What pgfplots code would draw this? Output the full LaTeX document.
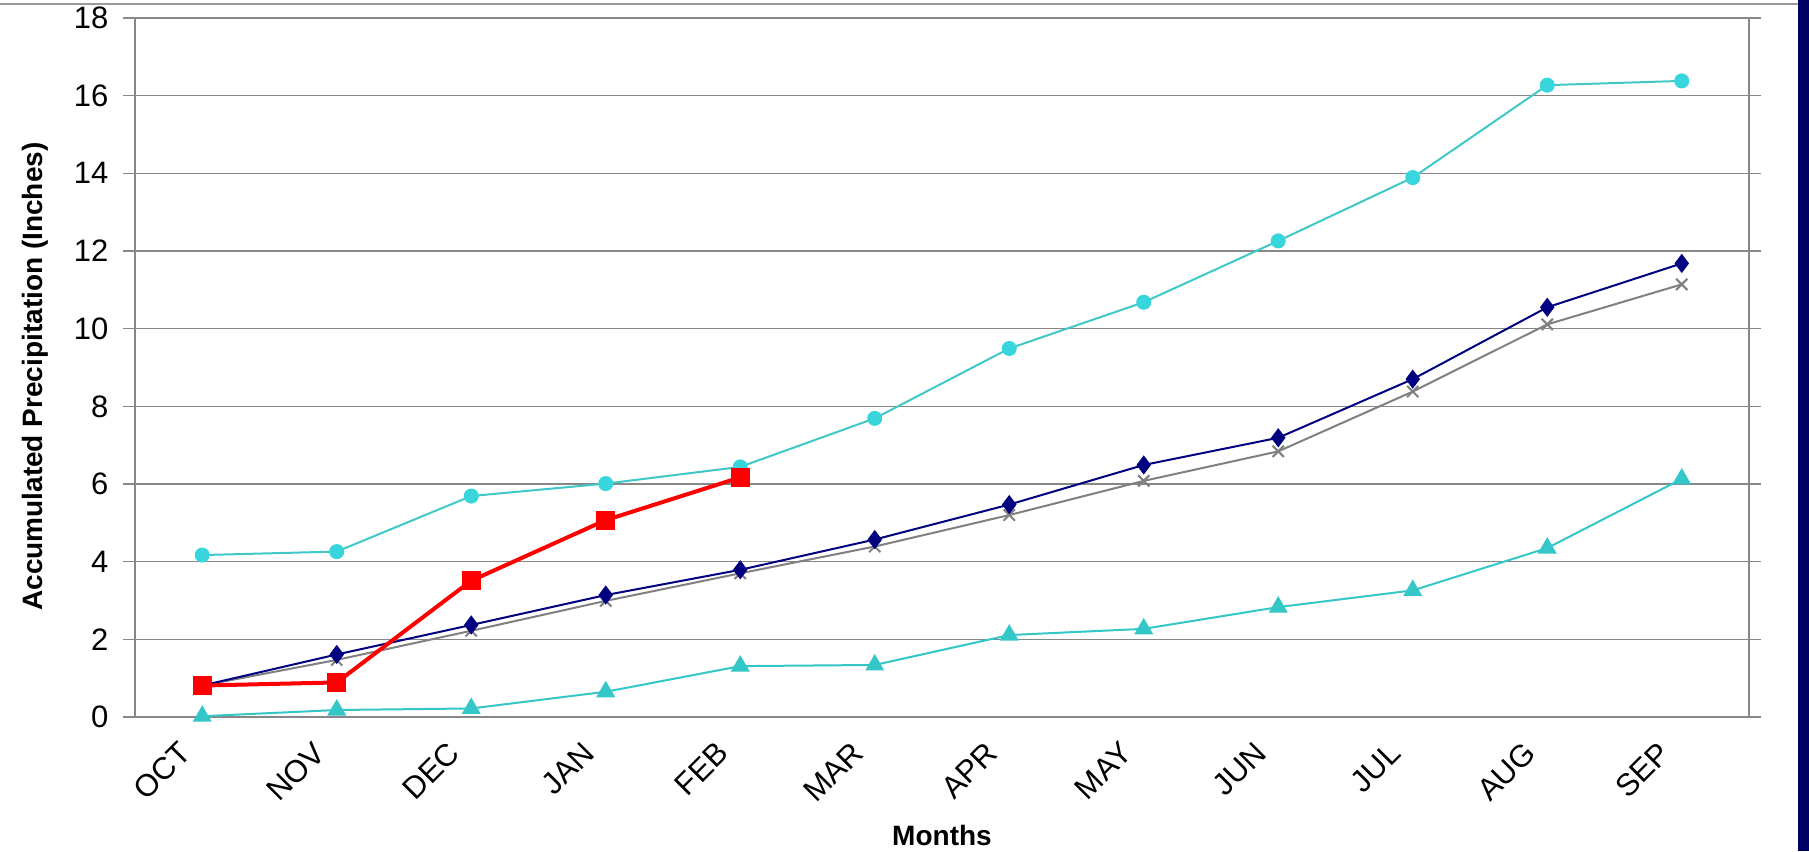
\documentclass[border=0pt]{standalone}
\usepackage{pgfplots}
\pgfplotsset{compat=1.18}
\usepackage{fontspec}
\setmainfont{Liberation Sans}

\definecolor{maxc}{RGB}{56,214,220}
\definecolor{maxl}{RGB}{64,200,200}
\definecolor{minc}{RGB}{51,199,199}
\definecolor{avgc}{RGB}{0,0,128}
\definecolor{medc}{RGB}{128,128,128}
\definecolor{gridc}{RGB}{135,135,135}
\definecolor{barc}{RGB}{0,0,100}

\begin{document}
\begin{tikzpicture}[x=1pt,y=1pt]
  % frame of the slide: 1 px = 1 pt, axis origin at pixel (135,717)
  \path[use as bounding box] (-135,-134) rectangle (1674,717);
  \fill[white] (-135,-134) rectangle (1674,717);
  \draw[gray!80, line width=2pt] (-135,713) -- (1663,713);
  \fill[barc] (1663,-134) rectangle (1674,717);

  \begin{axis}[
      at={(0,0)}, anchor=south west,
      scale only axis,
      width=1614pt, height=699pt,
      xmin=-0.5, xmax=11.5,
      ymin=0, ymax=18,
      xtick={0,...,11},
      xticklabels={OCT,NOV,DEC,JAN,FEB,MAR,APR,MAY,JUN,JUL,AUG,SEP},
      minor xtick={-0.5,0.5,...,11.5},
      ytick={0,2,...,18},
      ymajorgrids,
      grid style={gridc, line width=1.6pt},
      axis line style={gridc, line width=1.6pt},
      tick align=outside,
      major tick length=12pt,
      minor tick length=7pt,
      xtick style={draw=none},
      ytick style={gridc, line width=1.6pt},
      minor x tick style={gridc, line width=1.6pt},
      tick label style={font=\fontsize{31}{37}\selectfont},
      /pgf/number format/assume math mode=true,
      x tick label style={xshift=-25pt, yshift=-8pt, rotate=45, anchor=north east, inner sep=2pt},
      y tick label style={xshift=-11pt},
      xlabel={\textbf{Months}},
      ylabel={\textbf{Accumulated Precipitation (Inches)}},
      label style={font=\fontsize{28}{33}\selectfont},
      xlabel style={at={(axis description cs:0.5,-0.170)}, anchor=center},
      ylabel style={at={(axis description cs:-0.062,0.487)}, anchor=center, rotate=0},
      clip=false,
    ]
    % maximum
    \addplot[maxl, line width=2pt, mark=*, mark size=6.5pt,
             mark options={fill=maxc, draw=maxc}] coordinates {
      (0,4.17) (1,4.26) (2,5.69) (3,6.01) (4,6.44) (5,7.69)
      (6,9.49) (7,10.68) (8,12.26) (9,13.89) (10,16.27) (11,16.38)
    };
    % minimum
    \addplot[minc, line width=2pt, mark=triangle*, mark size=9pt,
             mark options={fill=minc, draw=minc}] coordinates {
      (0,0.02) (1,0.18) (2,0.22) (3,0.65) (4,1.31) (5,1.34)
      (6,2.11) (7,2.27) (8,2.83) (9,3.26) (10,4.35) (11,6.13)
    };
    % median
    \addplot[medc, line width=2pt, mark=x, mark size=8pt,
             mark options={line width=2pt}] coordinates {
      (0,0.81) (1,1.47) (2,2.22) (3,2.99) (4,3.70) (5,4.39)
      (6,5.20) (7,6.08) (8,6.84) (9,8.38) (10,10.11) (11,11.14)
    };
    % average
    \addplot[avgc, line width=2pt, mark=diamond*, mark size=8pt,
             mark options={fill=avgc, draw=avgc}] coordinates {
      (0,0.81) (1,1.61) (2,2.37) (3,3.14) (4,3.79) (5,4.57)
      (6,5.47) (7,6.49) (8,7.19) (9,8.70) (10,10.55) (11,11.68)
    };
    % current year
    \addplot[red, line width=4pt, mark=square*, mark size=9pt,
             mark options={fill=red, draw=red, line width=1pt}] coordinates {
      (0,0.81) (1,0.89) (2,3.51) (3,5.07) (4,6.17)
    };
  \end{axis}
\end{tikzpicture}
\end{document}
